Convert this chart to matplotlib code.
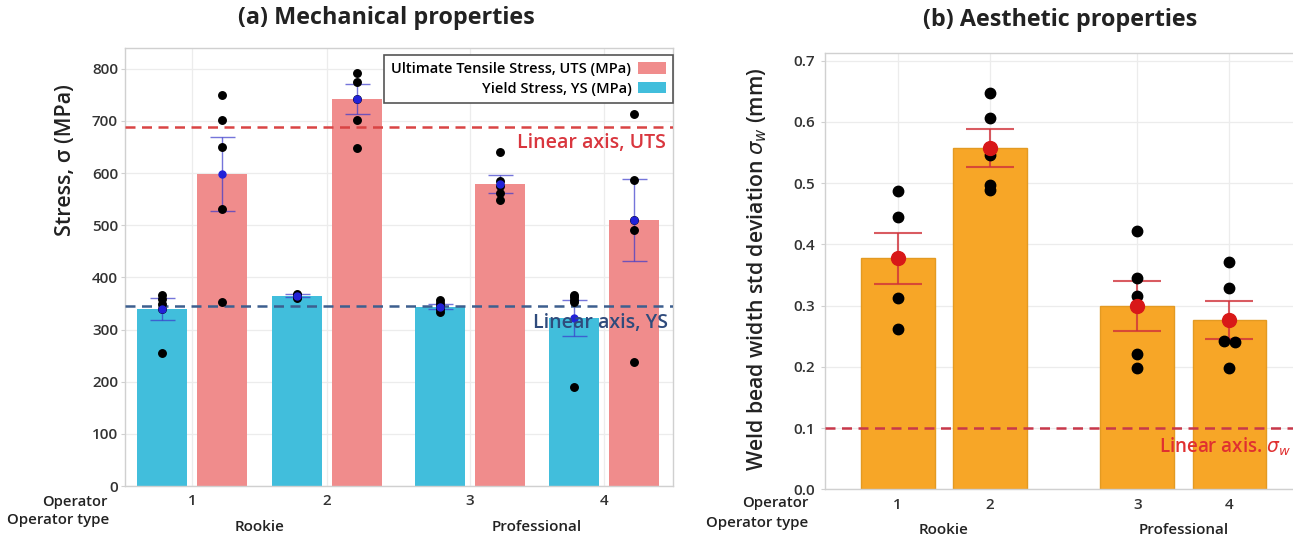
import numpy as np
import matplotlib
matplotlib.use("Agg")
import matplotlib.pyplot as plt
from matplotlib.patches import Patch

plt.rcParams['font.family'] = ['Open Sans', 'DejaVu Sans']

# ---------------- data ----------------
operators = ['1', '2', '3', '4']
operator_types = ['Rookie', 'Professional']

# (a) mechanical properties, MPa
uts_mean = [598, 742, 579, 510]
uts_sem = [71, 29, 17, 78]
uts_points = [
    [750, 702, 651, 532, 352],
    [793, 775, 742, 701, 648],
    [640, 585, 575, 562, 548],
    [714, 587, 510, 491, 237],
]
ys_mean = [339, 365, 344, 322]
ys_sem = [21, 3, 5, 34]
ys_points = [
    [367, 358, 350, 340, 256],
    [369, 366, 364, 362, 360],
    [357, 351, 345, 339, 333],
    [367, 362, 357, 352, 190],
]
uts_linear = 688
ys_linear = 345

# (b) aesthetic properties, mm
sw_mean = [0.377, 0.557, 0.300, 0.277]
sw_sem = [0.042, 0.031, 0.041, 0.031]
sw_points = [
    [0.488, 0.444, 0.377, 0.313, 0.262],
    [0.648, 0.607, 0.546, 0.497, 0.489],
    [0.422, 0.345, 0.315, 0.221, 0.198],
    [0.372, 0.329, 0.243, 0.241, 0.198],
]
sw_linear = 0.1

# ---------------- style ----------------
C_UTS = '#F08C8C'
C_YS = '#41BEDC'
C_ORANGE = '#F7A627'
C_RED = '#D9363E'
C_NAVY = '#2F4B7C'
GRID = '#ECECEC'
SPINE = '#D0D0D0'
TXT = '#222222'

fig = plt.figure(figsize=(12.93, 5.36), dpi=100)

def style_axes(ax):
    for s in ax.spines.values():
        s.set_color(SPINE)
        s.set_linewidth(1.0)
    ax.grid(True, color=GRID, linewidth=0.9, zorder=0)
    ax.set_axisbelow(True)
    ax.tick_params(axis='y', length=3, color=SPINE, pad=2, labelsize=11,
                   labelcolor='#333333')
    ax.tick_params(axis='x', length=0, pad=6, labelsize=11, labelcolor='#333333')
    for lab in ax.get_xticklabels() + ax.get_yticklabels():
        lab.set_fontweight('semibold')

# ---------------- (a) ----------------
ax1 = fig.add_axes([125 / 1293, 1 - 486 / 536, (673 - 125) / 1293, (486 - 48) / 536])
pos_a = np.array([0.0, 1.0, 2.055, 3.05])
off = 0.222
bw = 0.37

ax1.bar(pos_a - off, ys_mean, width=bw, color=C_YS, zorder=2)
ax1.bar(pos_a + off, uts_mean, width=bw, color=C_UTS, zorder=2)

for xs, means, sems, pts in [(pos_a - off, ys_mean, ys_sem, ys_points),
                             (pos_a + off, uts_mean, uts_sem, uts_points)]:
    ax1.errorbar(xs, means, yerr=sems, fmt='none', ecolor='#3a3acb', alpha=0.7,
                 elinewidth=1.0, capsize=9, capthick=1.0, zorder=3)
    for x, p in zip(xs, pts):
        ax1.plot([x] * len(p), p, 'o', color='black', ms=5.4, zorder=4)
    ax1.plot(xs, means, 'o', color='#2222d8', ms=5, zorder=5)

ax1.axhline(uts_linear, color='#D94444', linestyle=(0, (4, 2.6)), linewidth=1.8, zorder=3)
ax1.axhline(ys_linear, color='#3D5F8F', linestyle=(0, (4, 2.6)), linewidth=1.8, zorder=3)
ax1.text(3.505, 658, 'Linear axis, UTS', color=C_RED, fontsize=14,
         fontweight='semibold', ha='right', va='center', zorder=6)
ax1.text(3.52, 313, 'Linear axis, YS', color=C_NAVY, fontsize=14,
         fontweight='semibold', ha='right', va='center', zorder=6)

ax1.set_xlim(-0.496, 3.56)
ax1.set_ylim(0, 840)
ax1.set_yticks(np.arange(0, 801, 100))
ax1.set_xticks(pos_a)
ax1.set_xticklabels(operators)
style_axes(ax1)

leg = ax1.legend(handles=[Patch(facecolor=C_UTS), Patch(facecolor=C_YS)],
                 labels=['Ultimate Tensile Stress, UTS (MPa)', 'Yield Stress, YS (MPa)'],
                 loc='upper right', bbox_to_anchor=(1.0, 0.985), markerfirst=False,
                 fancybox=False, framealpha=1, edgecolor='#555555',
                 prop={'size': 10.5, 'weight': 'semibold'}, handlelength=1.9,
                 handleheight=0.85, borderpad=0.5, labelspacing=0.4,
                 handletextpad=0.45, borderaxespad=0.0)
leg.get_frame().set_linewidth(1.2)
leg.set_zorder(7)

xt1 = ax1.get_xaxis_transform()
ax1.text(pos_a[:2].mean(), -0.0936, operator_types[0], transform=xt1, ha='center',
         va='center', fontsize=11, fontweight='semibold', color=TXT)
ax1.text(pos_a[2:].mean(), -0.0936, operator_types[1], transform=xt1, ha='center',
         va='center', fontsize=11, fontweight='semibold', color=TXT)
fig.text(108 / 1293, 1 - 502 / 536, 'Operator', ha='right', va='center',
         fontsize=10.6, fontweight='semibold', color=TXT)
fig.text(109 / 1293, 1 - 520 / 536, 'Operator type', ha='right', va='center',
         fontsize=10.8, fontweight='semibold', color=TXT)
fig.text(66 / 1293, 1 - 160 / 536, 'Stress, σ (MPa)', rotation=90, ha='center',
         va='center', fontsize=15.5, fontweight='semibold', color=TXT)
fig.text(386 / 1293, 1 - 18 / 536, '(a) Mechanical properties', ha='center',
         va='center', fontsize=16.8, fontweight='bold', color=TXT)

# ---------------- (b) ----------------
ax2 = fig.add_axes([825 / 1293, 1 - 489.3 / 536, (1293 - 825) / 1293, (489.3 - 53) / 536])
pos_b = np.array([0.0, 1.0, 2.6, 3.6])

ax2.bar(pos_b, sw_mean, width=0.8, color=C_ORANGE, edgecolor='#E39A22',
        linewidth=1.0, zorder=2)
ax2.errorbar(pos_b, sw_mean, yerr=sw_sem, fmt='none', ecolor='#D0323A', alpha=0.8,
             elinewidth=1.5, capsize=17, capthick=1.5, zorder=3)

# swarm-style dodge for points that sit on top of one another
for x, p in zip(pos_b, sw_points):
    xs = []
    placed = []
    for v in p:
        close = [u for u in placed if abs(u - v) < 0.008]
        if close:
            xs[-1] = x - 0.058
            xs.append(x + 0.058)
        else:
            xs.append(x)
        placed.append(v)
    ax2.plot(xs, p, 'o', color='black', ms=7.5, zorder=4)
ax2.plot(pos_b, sw_mean, 'o', color='#D81818', ms=10, zorder=5)

ax2.axhline(sw_linear, color='#C8384A', linestyle=(0, (4, 2.6)), linewidth=1.8, zorder=3)
ax2.text(0.996, 0.069, r'Linear axis. $\sigma_w$', color='#E03030', fontsize=13.5,
         fontweight='semibold', ha='right', va='center', zorder=6,
         transform=ax2.get_yaxis_transform())

ax2.set_xlim(-0.79, 4.29)
ax2.set_ylim(0, 0.7126)
ax2.set_yticks(np.arange(0, 0.71, 0.1))
ax2.set_yticklabels([f'{v:.1f}' for v in np.arange(0, 0.71, 0.1)])
ax2.set_xticks(pos_b)
ax2.set_xticklabels(operators)
style_axes(ax2)
ax2.spines['right'].set_visible(False)
ax2.tick_params(axis='y', pad=4)

xt2 = ax2.get_xaxis_transform()
ax2.text(pos_b[:2].mean(), -0.0933, operator_types[0], transform=xt2, ha='center',
         va='center', fontsize=11, fontweight='semibold', color=TXT)
ax2.text(pos_b[2:].mean(), -0.0933, operator_types[1], transform=xt2, ha='center',
         va='center', fontsize=11, fontweight='semibold', color=TXT)
fig.text(808 / 1293, 1 - 503 / 536, 'Operator', ha='right', va='center',
         fontsize=10.8, fontweight='semibold', color=TXT)
fig.text(808 / 1293, 1 - 523 / 536, 'Operator type', ha='right', va='center',
         fontsize=10.8, fontweight='semibold', color=TXT)
fig.text(757 / 1293, 1 - 269 / 536, r'Weld bead width std deviation $\sigma_{w}$ (mm)',
         rotation=90, ha='center', va='center', fontsize=15.3, fontweight='semibold',
         color=TXT)
fig.text(1060 / 1293, 1 - 20 / 536, '(b) Aesthetic properties', ha='center',
         va='center', fontsize=16.8, fontweight='bold', color=TXT)

fig.savefig('out.png', dpi=100)
